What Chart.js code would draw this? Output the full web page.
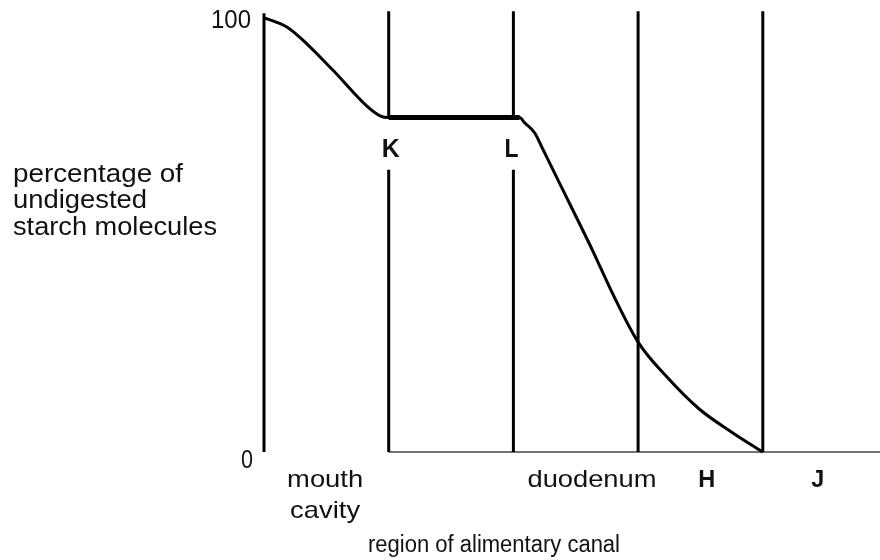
<!DOCTYPE html>
<html><head><meta charset="utf-8">
<script src="https://cdn.jsdelivr.net/npm/chart.js@4"></script>
<style>html,body{margin:0;padding:0;background:#fff}#wrap{width:880px;height:560px}</style>
</head><body><div id="wrap"><canvas id="c" width="880" height="560"></canvas></div>
<script>
// Data (x in region units: 0 = start of mouth cavity, 1 = K, 2 = L, 3, 4 = boundaries)
const curveX = [0, 0.18, 0.29, 0.55, 0.83, 0.93, 1.0, 2.05, 2.09, 2.17, 2.24, 2.37, 2.64, 2.79, 3.0, 3.23, 3.49, 3.76, 4.0];
const curveY = [100, 97.9, 95.4, 88.0, 79.5, 77.4, 77, 77, 75.8, 73.5, 69.5, 61.9, 46.1, 36.8, 25.3, 17.3, 9.9, 4.4, 0];
const plateauY = 77;
const boundaryX = [1, 2, 3, 4];
const boundaryLetters = ['K', 'L', '', ''];
const regionNames = [['mouth', 'cavity'], ['duodenum'], ['H'], ['J']];
const yTickValues = [0, 100];
const yTitleLines = ['percentage of', 'undigested', 'starch molecules'];
const xTitle = 'region of alimentary canal';
const xMax = 4.94;
const yMax = 102;
const lineTop = 101.5;
const letterGap = [65, 77];

const pts = (xs, ys) => xs.map((x, i) => ({x, y: ys[i]}));
const curvePts = pts(curveX, curveY);
const plateauPts = curvePts.filter(p => p.y === plateauY);

const boundaryPts = [];
boundaryX.forEach((b, i) => {
  if (boundaryLetters[i]) {
    boundaryPts.push({x:b,y:lineTop},{x:b,y:letterGap[1]},{x:b,y:null},{x:b,y:letterGap[0]},{x:b,y:0},{x:b,y:null});
  } else {
    boundaryPts.push({x:b,y:lineTop},{x:b,y:0},{x:b,y:null});
  }
});

const FONT = '"Liberation Sans", Arial, Helvetica, sans-serif';
function fit(ctx, text, x, y, w, align) {
  const m = ctx.measureText(text).width;
  ctx.save();
  ctx.translate(x, y);
  ctx.scale(w / m, 1);
  ctx.textAlign = align;
  ctx.fillText(text, 0, 0);
  ctx.restore();
}

const textPlugin = {
  id: 'texts',
  afterDraw(chart) {
    const ctx = chart.ctx, xs = chart.scales.x, ys = chart.scales.y;
    ctx.save();
    ctx.fillStyle = '#111';
    ctx.textBaseline = 'alphabetic';
    ctx.font = '25px ' + FONT;
    const x0 = xs.getPixelForValue(0);
    fit(ctx, String(yTickValues[1]), x0 - 13, ys.getPixelForValue(yTickValues[1]) + 10, 40, 'right');
    fit(ctx, String(yTickValues[0]), x0 - 11, ys.getPixelForValue(yTickValues[0]) + 16, 12, 'right');
    const yTitleW = [170, 134, 204];
    const yTitleB = [182, 208, 235];
    yTitleLines.forEach((t, i) => fit(ctx, t, 13, yTitleB[i], yTitleW[i], 'left'));
    const base = ys.getPixelForValue(0);
    const rx = [0.49, 2.63, 3.55, 4.44];
    const rw = [[76, 70], [129], [17], [13]];
    regionNames.forEach((lines, i) => {
      const bold = lines[0].length === 1;
      ctx.font = (bold ? 'bold ' : '') + '24px ' + FONT;
      lines.forEach((t, j) => fit(ctx, t, xs.getPixelForValue(rx[i]), base + 35 + j * 31, rw[i][j], 'center'));
    });
    ctx.font = 'bold 26px ' + FONT;
    const off = [2, -2];
    boundaryLetters.forEach((t, i) => {
      if (!t) return;
      fit(ctx, t, xs.getPixelForValue(boundaryX[i]) + off[i], 157, t === 'K' ? 18 : 14, 'center');
    });
    ctx.font = '23px ' + FONT;
    fit(ctx, xTitle, 494, 552, 252, 'center');
    ctx.restore();
  }
};

new Chart(document.getElementById('c'), {
  type: 'line',
  data: {
    datasets: [
      { data: curvePts, borderColor: '#000', borderWidth: 3, pointRadius: 0,
        cubicInterpolationMode: 'monotone', clip: false, borderJoinStyle: 'round' },
      { data: plateauPts, borderColor: '#000', borderWidth: 5, pointRadius: 0, clip: false },
      { data: boundaryPts, borderColor: '#000', borderWidth: 3, pointRadius: 0, spanGaps: false, clip: false, tension: 0 },
      { data: [{x:0,y:0},{x:0,y:101}], borderColor: '#000', borderWidth: 3, pointRadius: 0, clip: false },
      { data: [{x:1,y:0},{x:xMax,y:0}], borderColor: '#444', borderWidth: 1.6, pointRadius: 0, clip: false }
    ]
  },
  options: {
    responsive: false,
    animation: false,
    devicePixelRatio: 1,
    layout: { padding: { left: 264, right: 0, top: 9, bottom: 108 } },
    scales: {
      x: { type: 'linear', min: 0, max: xMax, display: false },
      y: { min: 0, max: yMax, display: false }
    },
    plugins: { legend: { display: false }, tooltip: { enabled: false } }
  },
  plugins: [textPlugin]
});
</script>
</body></html>
